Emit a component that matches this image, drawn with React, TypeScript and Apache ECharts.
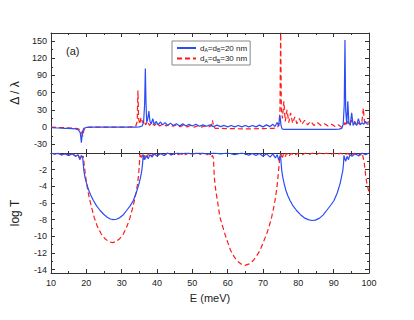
import React, { useEffect, useRef } from "react";
import * as echarts from "echarts";

const NAME20 = "dA=dB=20 nm";
const NAME30 = "dA=dB=30 nm";

const xTicks = [10, 20, 30, 40, 50, 60, 70, 80, 90, 100];
const topLabels = [-30, 0, 30, 60, 90, 120, 150];
const topMinor = [-45, -15, 15, 45, 75, 105, 135];
const botLabels = [-14, -12, -10, -8, -6, -4, -2];
const botMajor = [-14, -12, -10, -8, -6, -4, -2, 0];
const botMinor = [-13, -11, -9, -7, -5, -3, -1];

// Δ/λ, d = 20 nm
const blueTop: number[][] = [
  [10, -1], [12, -1.5], [14, -2], [15, -2], [16, -2.5], [17, -3], [17.8, -5], [18.3, -10], [18.6, -27], [18.9, -8], [19.3, -2], [20, -0.5], [22, 0], [25, 0], [30, 0], [34, 0], [35, 0.5], [35.8, 2], [36.2, 8], [36.5, 40], [36.7, 102], [36.9, 40], [37.1, 8], [37.4, 15], [37.7, 28], [38, 10], [38.4, 6], [38.8, 15], [39.2, 5], [39.8, 10], [40.3, 4], [41, 9], [41.6, 4], [42.3, 8], [43, 3], [43.8, 7], [44.6, 3], [45.5, 6], [46.4, 2], [47.3, 6], [48.2, 2], [49.1, 5], [50, 2], [51, 5], [52, 1.5], [53, 4], [54, 1.5], [55, 4], [56, 1], [57, 3.5], [58, 1], [59, 3], [60, 0.5], [61, 3], [62, 0.5], [63, 3], [64, 0.5], [65, 3], [66, 0.5], [67, 3], [68, 0.5], [69, 3.5], [70, 0.5], [71, 4], [72, 1], [72.8, 5], [73.4, 1], [74, 8], [74.4, 2], [74.8, 20], [75.1, 3], [75.4, -3], [76, -4], [80, -4], [85, -4], [90, -4], [91.5, -3.5], [92.3, -2], [92.7, 5], [93, 40], [93.2, 152], [93.4, 30], [93.7, 5], [94, 45], [94.3, 8], [94.7, 3], [95.1, 25], [95.5, 3], [96, 8], [96.5, 3], [97, 15], [97.5, 4], [98, 8], [98.5, 5], [99, 10], [99.5, 5], [100, 6],
];

// Δ/λ, d = 30 nm
const redTop: number[][] = [
  [10, 0], [12, -0.5], [14, -1], [16, -1.5], [17.5, -2.5], [18.5, -5], [19, -16], [19.3, -5], [19.8, -1], [21, 0], [25, 0], [30, 0], [33, 0.5], [34, 2], [34.4, 10], [34.6, 64], [34.8, 15], [35.1, 5], [35.5, 17], [35.9, 8], [36.3, 12], [36.8, 4], [37.3, 10], [37.9, 3], [38.5, 8], [39.2, 3], [40, 7], [40.8, 2], [41.7, 6], [42.6, 2], [43.5, 5], [44.5, 1.5], [45.5, 4], [46.5, 1], [47.5, 3.5], [48.5, 0.5], [49.5, 3], [50.5, 0], [51.5, 2.5], [52.5, 0], [53.5, 2], [54.5, 0], [55.3, 2], [55.7, 12], [56, 1], [56.5, -2], [60, -2.5], [65, -3], [70, -2.5], [73, -2], [74, -1], [74.5, 3], [74.8, 30], [75, 170], [75.2, 30], [75.5, 15], [75.9, 45], [76.3, 10], [76.8, 30], [77.3, 8], [77.8, 25], [78.4, 7], [79, 18], [79.6, 6], [80.3, 15], [81, 5], [81.8, 12], [82.6, 4], [83.5, 10], [84.4, 3], [85.4, 8], [86.4, 3], [87.4, 6], [88.4, 2], [89.4, 5], [90.4, 1], [91.4, 4], [92.2, 0], [92.8, 2], [93.2, 8], [93.6, 3], [94, 10], [94.5, 4], [95, 12], [95.5, 5], [96, 10], [96.5, 3], [97, 8], [97.5, 5], [98, 10], [98.4, 33], [98.7, 10], [99.2, 5], [99.6, 8], [100, 10],
];

// log T, d = 20 nm
const blueBot: number[][] = [
  [10, 0], [11, -0.1], [12, -0.05], [13, -0.2], [14, -0.1], [15, -0.3], [16, -0.1], [17, -0.4], [17.6, -0.2], [18.2, -0.8], [18.6, -0.3], [18.96, -0.5], [19.1, -1.2], [19.3, -2.1], [19.6, -2.9], [20.1, -3.7], [20.7, -4.5], [21.3, -5.1], [22.0, -5.7], [22.9, -6.35], [23.9, -6.9], [24.9, -7.35], [25.9, -7.7], [26.8, -7.92], [27.6, -8.0], [28.5, -7.95], [29.5, -7.75], [30.5, -7.4], [31.4, -6.9], [32.4, -6.35], [33.3, -5.7], [34.1, -4.8], [34.9, -3.7], [35.4, -2.8], [35.7, -2.1], [35.95, -1.1], [36.1, -0.2], [36.5, -0.8], [37, -0.3], [37.5, -0.7], [38, -0.2], [38.6, -0.5], [39.2, -0.1], [40, -0.35], [41, -0.05], [42, -0.3], [43, 0], [44, -0.2], [46, 0], [47, -0.15], [48, 0], [50, -0.1], [52, 0], [54, -0.1], [56, 0], [58, -0.1], [60, 0], [62, -0.2], [64, 0], [66, -0.25], [67, -0.05], [68, -0.3], [69, -0.05], [70, -0.4], [71, -0.1], [72, -0.5], [72.8, -0.1], [73.5, -0.6], [74, -0.2], [74.5, -0.9], [74.8, -0.3], [75.0, -0.6], [75.15, -1.3], [75.3, -2.1], [75.6, -2.9], [76.0, -3.7], [76.5, -4.5], [77.0, -5.1], [77.65, -5.7], [78.5, -6.35], [79.5, -6.9], [80.6, -7.4], [81.7, -7.78], [82.8, -8.0], [83.8, -8.1], [84.8, -8.05], [85.9, -7.85], [87.0, -7.45], [88.0, -6.9], [89.1, -6.3], [90.1, -5.7], [91.0, -4.8], [91.8, -3.7], [92.2, -2.9], [92.6, -2.1], [92.8, -1.2], [92.9, -0.3], [93.4, -1.0], [93.8, -0.4], [94.2, -0.8], [94.6, -0.2], [95.2, -0.4], [96, -0.1], [97, -0.3], [98, 0], [99, -0.2], [100, 0],
];

// log T, d = 30 nm
const redBot: number[][] = [
  [10, 0], [11, -0.15], [12, 0], [13, -0.25], [14, -0.05], [15, -0.3], [16, -0.1], [17, -0.4], [17.6, -0.1], [18.1, -0.6], [18.4, -0.2], [18.7, -0.5], [19.15, -0.4], [19.3, -1.0], [19.5, -1.8], [19.8, -2.8], [20.1, -3.7], [20.5, -4.7], [21.0, -5.7], [21.6, -6.7], [22.2, -7.7], [23.1, -8.8], [24.2, -9.7], [25.3, -10.3], [26.4, -10.65], [27.45, -10.76], [28.5, -10.6], [29.5, -10.25], [30.5, -9.7], [31.5, -8.8], [32.4, -7.7], [33.0, -6.75], [33.6, -5.7], [34.1, -4.7], [34.5, -3.7], [34.8, -2.6], [35.0, -1.4], [35.2, -0.2], [35.5, -0.7], [35.8, -0.2], [36.2, -0.8], [36.6, -0.2], [37.1, -0.5], [37.6, -0.1], [38.3, -0.4], [39, -0.05], [40, -0.35], [41, -0.05], [42, -0.3], [43, 0], [44, -0.25], [45, 0], [46, -0.2], [47, 0], [48, -0.2], [49, 0], [50, -0.15], [51, 0], [52, -0.2], [53, 0], [54, -0.25], [54.8, -0.05], [55.3, -0.5], [55.7, -0.3], [55.95, -0.6], [56.1, -1.8], [56.2, -2.8], [56.4, -3.7], [56.7, -4.7], [57.1, -5.7], [57.45, -6.7], [57.8, -7.7], [58.5, -8.7], [59.2, -9.7], [60.0, -10.7], [60.85, -11.7], [61.7, -12.35], [62.55, -12.9], [63.7, -13.3], [64.9, -13.48], [66.1, -13.3], [67.25, -12.9], [68.2, -12.35], [69.15, -11.7], [70.1, -10.7], [71.05, -9.7], [71.8, -8.7], [72.45, -7.7], [72.95, -6.7], [73.4, -5.7], [73.75, -4.7], [74.05, -3.7], [74.3, -2.6], [74.55, -1.5], [74.8, -0.3], [75.1, -0.1], [75.4, -0.7], [75.8, -0.1], [76.2, -0.5], [76.7, -0.05], [77.2, -0.4], [78, -0.05], [78.8, -0.3], [80, 0], [81, -0.25], [82, 0], [83, -0.2], [84, 0], [85, -0.2], [86, 0], [87, -0.15], [88, 0], [89, -0.2], [90, 0], [91, -0.2], [92, 0], [93, -0.25], [94, -0.05], [95, -0.3], [96, 0], [97, -0.4], [97.6, -0.1], [98.0, -0.5], [98.2, -0.3], [98.6, -1.0], [99.0, -2.5], [99.3, -3.4], [99.7, -4.2], [100, -4.7],
];

const BLUE = "#2a4cf5";
const RED = "#ff1a1a";
const AXIS = "#333";
const FONT = "'Liberation Sans', Arial, sans-serif";

export default function App() {
  const ref = useRef<HTMLDivElement>(null);
  useEffect(() => {
    if (!ref.current) return;
    const chart = echarts.init(ref.current, null, { renderer: "svg" });
    const line = { lineStyle: { color: AXIS, width: 1 } };
    const xBase = (grid: number, pos: string, labels: boolean) => ({
      type: "value",
      gridIndex: grid,
      position: pos,
      min: xTicks[0],
      max: xTicks[xTicks.length - 1],
      interval: 10,
      axisLine: { show: true, onZero: false, ...line },
      axisTick: { show: true, inside: true, length: 4, ...line },
      minorTick: { show: true, splitNumber: 2, length: 2, ...line },
      splitLine: { show: false },
      minorSplitLine: { show: false },
      axisLabel: {
        show: labels,
        fontSize: 9,
        color: "#222",
        fontFamily: FONT,
        margin: 5,
      },
    });
    const yMajor = (
      grid: number,
      pos: string,
      min: number,
      max: number,
      labels: number[],
      ticks: number[],
      showLabels: boolean
    ) => ({
      type: "value",
      gridIndex: grid,
      position: pos,
      min,
      max,
      axisLine: { show: true, onZero: false, ...line },
      axisTick: { show: true, inside: true, length: 4, customValues: ticks, ...line },
      splitLine: { show: false },
      axisLabel: {
        show: showLabels,
        customValues: labels,
        fontSize: 9,
        color: "#222",
        fontFamily: FONT,
        margin: 4,
      },
    });
    const yMinor = (grid: number, pos: string, min: number, max: number, ticks: number[]) => ({
      type: "value",
      gridIndex: grid,
      position: pos,
      min,
      max,
      axisLine: { show: false },
      axisTick: { show: true, inside: true, length: 2, customValues: ticks, ...line },
      splitLine: { show: false },
      axisLabel: { show: false },
    });
    const TMIN = -45, TMAX = 164, BMIN = -14.4, BMAX = 0;
    const seriesLine = (name: string, data: number[][], xi: number, yi: number, color: string, dashed: boolean) => ({
      name,
      type: "line",
      data,
      xAxisIndex: xi,
      yAxisIndex: yi,
      symbol: "none",
      showSymbol: false,
      clip: true,
      lineStyle: { color, width: 1.2, type: dashed ? [5, 3] : "solid" },
      itemStyle: { color },
      z: dashed ? 3 : 4,
    });
    chart.setOption({
      animation: false,
      backgroundColor: "#fff",
      textStyle: { fontFamily: FONT },
      grid: [
        { left: 51, right: 45, top: 33, height: 120 },
        { left: 51, right: 45, top: 153, height: 120 },
      ],
      legend: {
        left: 172,
        top: 41,
        orient: "vertical",
        data: [NAME20, NAME30],
        backgroundColor: "#fff",
        borderColor: "#888",
        borderWidth: 1,
        padding: [3, 3, 2, 4],
        itemGap: 2,
        itemWidth: 19,
        itemHeight: 9,
        itemStyle: { opacity: 0 },
        formatter: (n: string) =>
          n === NAME20 ? "d{s|A}=d{s|B}=20 nm" : "d{s|A}=d{s|B}=30 nm",
        textStyle: {
          fontSize: 8,
          color: "#222",
          fontFamily: FONT,
          padding: [0, 0, 0, -1],
          rich: {
            s: { fontSize: 5, padding: [4, 0, 0, 0], color: "#222", fontFamily: FONT },
          },
        },
      },
      xAxis: [
        xBase(0, "bottom", false),
        xBase(0, "top", false),
        {
          ...xBase(1, "bottom", true),
          name: "E (meV)",
          nameLocation: "middle",
          nameGap: 19,
          nameTextStyle: { fontSize: 11, color: "#222", fontFamily: FONT },
        },
        xBase(1, "top", false),
      ],
      yAxis: [
        {
          ...yMajor(0, "left", TMIN, TMAX, topLabels, topLabels, true),
          name: "Δ / λ",
          nameLocation: "middle",
          nameRotate: 90,
          nameGap: 30,
          nameTextStyle: { fontSize: 12, color: "#222", fontFamily: FONT },
        },
        yMinor(0, "left", TMIN, TMAX, topMinor),
        yMajor(0, "right", TMIN, TMAX, topLabels, topLabels, false),
        yMinor(0, "right", TMIN, TMAX, topMinor),
        {
          ...yMajor(1, "left", BMIN, BMAX, botLabels, botMajor, true),
          name: "log T",
          nameLocation: "middle",
          nameRotate: 90,
          nameGap: 30,
          nameTextStyle: { fontSize: 12, color: "#222", fontFamily: FONT },
        },
        yMinor(1, "left", BMIN, BMAX, botMinor),
        yMajor(1, "right", BMIN, BMAX, botLabels, botMajor, false),
        yMinor(1, "right", BMIN, BMAX, botMinor),
      ],
      graphic: [
        {
          type: "text",
          left: 66,
          top: 45,
          style: { text: "(a)", fontSize: 11, fill: "#222", fontFamily: FONT },
        },
      ],
      series: [
        seriesLine(NAME20, blueTop, 0, 0, BLUE, false),
        seriesLine(NAME30, redTop, 0, 0, RED, true),
        seriesLine(NAME20, blueBot, 2, 4, BLUE, false),
        seriesLine(NAME30, redBot, 2, 4, RED, true),
      ],
    });
    return () => chart.dispose();
  }, []);
  return <div ref={ref} style={{ width: 414, height: 320, margin: -8 }} />;
}
